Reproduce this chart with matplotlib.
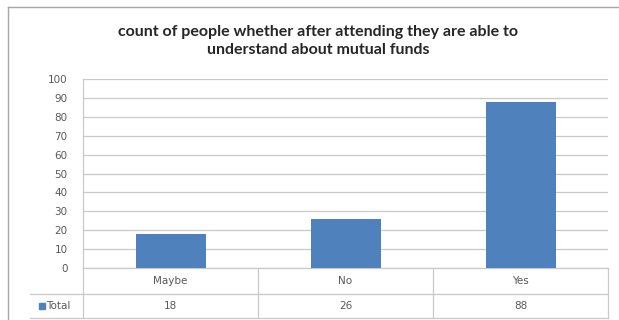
import matplotlib.pyplot as plt
from matplotlib.lines import Line2D
from matplotlib.patches import Rectangle

categories = ["Maybe", "No", "Yes"]
totals = [18, 26, 88]
series_name = "Total"
title = "count of people whether after attending they are able to\nunderstand about mutual funds"

bar_color = "#4f81bd"
grid_color = "#c9c9c9"
text_color = "#595959"

W, H = 619, 320
fig = plt.figure(figsize=(W / 100, H / 100), dpi=100)
fig.patch.set_facecolor("white")

# plot area in pixels: left, right, top, bottom
L, R, T, B = 83, 608, 79, 268
ax = fig.add_axes([L / W, 1 - B / H, (R - L) / W, (B - T) / H])

x = list(range(len(categories)))
ax.bar(x, totals, width=0.4, color=bar_color, zorder=3)

ax.set_xlim(-0.5, len(categories) - 0.5)
ax.set_ylim(0, 100)
ax.set_yticks(range(0, 101, 10))
ax.set_xticks([])
ax.grid(axis="y", color=grid_color, linewidth=0.9, zorder=0)
ax.tick_params(axis="y", length=0, pad=11, labelsize=7.5, labelcolor=text_color)
for s in ["top", "right", "bottom"]:
    ax.spines[s].set_visible(False)
ax.spines["left"].set_color(grid_color)
ax.spines["left"].set_linewidth(0.9)

fig.text(0.514, 1 - 41 / H, title, ha="center", va="center", fontsize=11.5,
         fontweight="bold", color="#262626", family="Lato", linespacing=1.45)

# data table under the axis
px = B - T                      # axes height in px
row1 = -26 / px
row2 = -50 / px
tr = ax.get_xaxis_transform()
cat_w = (R - L) / len(categories)
left_edge = -0.5 - (L - 30) / cat_w
table_kw = dict(color=grid_color, linewidth=0.9, transform=tr, clip_on=False)
ax.add_line(Line2D([-0.5, len(categories) - 0.5], [0, 0], **table_kw))
ax.add_line(Line2D([left_edge, len(categories) - 0.5], [row1, row1], **table_kw))
ax.add_line(Line2D([left_edge, len(categories) - 0.5], [row2, row2], **table_kw))
for b in [i - 0.5 for i in range(len(categories) + 1)]:
    ax.add_line(Line2D([b, b], [0, row2], **table_kw))

for xi, cat, val in zip(x, categories, totals):
    ax.text(xi, row1 / 2, cat, transform=tr, ha="center", va="center",
            fontsize=7.5, color=text_color)
    ax.text(xi, (row1 + row2) / 2, str(val), transform=tr, ha="center",
            va="center", fontsize=7.5, color=text_color)

# legend key in the table row
key_x = -0.5 - (L - 39) / cat_w
ax.add_patch(Rectangle((key_x, (row1 + row2) / 2 - 3 / px), 5.5 / cat_w, 6 / px,
                       transform=tr, color=bar_color, clip_on=False))
ax.text(-0.5 - (L - 46) / cat_w, (row1 + row2) / 2, series_name, transform=tr,
        ha="left", va="center", fontsize=7.5, color=text_color)

# chart border
fig.add_artist(Line2D([8 / W, 8 / W], [0, 1 - 7 / H], color="#a6a6a6",
                      linewidth=1, transform=fig.transFigure))
fig.add_artist(Line2D([8 / W, 1], [1 - 7 / H, 1 - 7 / H], color="#a6a6a6",
                      linewidth=1, transform=fig.transFigure))

fig.savefig("out.png", dpi=100, facecolor="white")
